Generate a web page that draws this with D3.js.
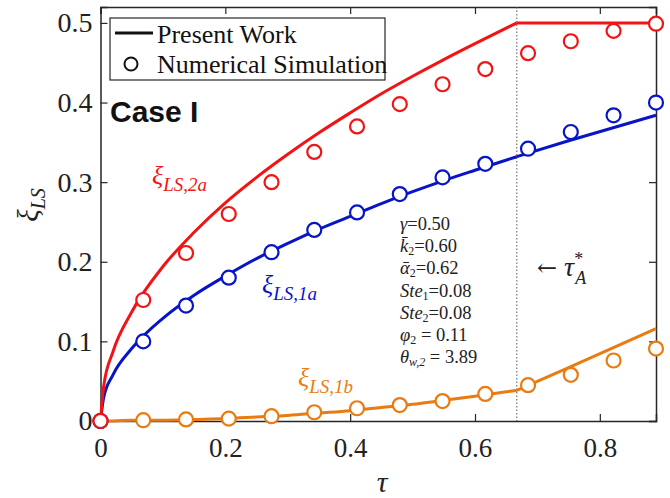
<!DOCTYPE html>
<html>
<head>
<meta charset="utf-8">
<script src="https://cdn.jsdelivr.net/npm/d3@7"></script>
<style>
  body { margin: 0; background: #fff; }
  svg text { font-family: "Liberation Serif", serif; }
</style>
</head>
<body>
<div id="chart"></div>
<script>
// chart values
var tauA = 0.667;

// simulation points (circles)
var simTau = [0, 0.0685, 0.137, 0.2055, 0.274, 0.3425, 0.411, 0.4795, 0.548, 0.6165, 0.685, 0.7535, 0.822, 0.89];
var sim2a  = [0, 0.152, 0.211, 0.260, 0.300, 0.338, 0.370, 0.398, 0.423, 0.442, 0.462, 0.477, 0.490, 0.499];
var sim1a  = [0, 0.100, 0.145, 0.180, 0.212, 0.240, 0.262, 0.285, 0.306, 0.323, 0.342, 0.363, 0.384, 0.400];
var sim1b  = [0, 0.001, 0.002, 0.003, 0.006, 0.011, 0.016, 0.020, 0.025, 0.034, 0.045, 0.058, 0.076, 0.091];

// present work (lines)
var lineTau = [0, 0.005, 0.02, 0.05, 0.1, 0.15, 0.2, 0.25, 0.3, 0.35, 0.4, 0.45, 0.5, 0.55, 0.6, 0.667, 0.75, 0.89];
var line2a  = [0, 0.043, 0.087, 0.137, 0.194, 0.237, 0.274, 0.306, 0.335, 0.362, 0.387, 0.411, 0.433, 0.454, 0.474, 0.500, 0.500, 0.500];
var line1a  = [0, 0.029, 0.058, 0.091, 0.129, 0.158, 0.182, 0.204, 0.223, 0.241, 0.257, 0.273, 0.288, 0.302, 0.315, 0.332, 0.352, 0.384];
var line1b  = [0, 0.000, 0.000, 0.001, 0.001, 0.002, 0.003, 0.005, 0.007, 0.010, 0.013, 0.017, 0.021, 0.026, 0.031, 0.0386, 0.067, 0.116];

var xTicks = [0, 0.2, 0.4, 0.6, 0.8];
var yTicks = [0, 0.1, 0.2, 0.3, 0.4, 0.5];

// parameter block: [text, italic, subscript]
var params = [
  [["γ", 1], ["=0.50", 0]],
  [["k\u0304", 1], ["2", 0, "sub"], ["=0.60", 0]],
  [["α\u0304", 1], ["2", 0, "sub"], ["=0.62", 0]],
  [["Ste", 1], ["1", 0, "sub"], ["=0.08", 0]],
  [["Ste", 1], ["2", 0, "sub"], ["=0.08", 0]],
  [["φ", 1], ["2", 0, "sub"], [" = 0.11", 0]],
  [["θ", 1], ["w,2", 1, "sub"], [" = 3.89", 0]]
];

var red = "#f21414", blue = "#0814c8", orange = "#e97b10", axisCol = "#262626";

var width = 670, height = 498;
var margin = {top: 7, right: 14, bottom: 77, left: 100.5};

var svg = d3.select("#chart").append("svg")
    .attr("width", width)
    .attr("height", height);

var x = d3.scaleLinear().domain([0, 0.89]).range([margin.left, width - margin.right]);
var y = d3.scaleLinear().domain([0, 0.52]).range([height - margin.bottom, margin.top]);

var fmt = function(d) { return d === 0 ? "0" : d.toFixed(1); };

// axes, box with inward ticks
var gx = svg.append("g")
    .attr("transform", "translate(0," + y(0) + ")")
    .call(d3.axisBottom(x).tickValues(xTicks).tickSize(-7).tickFormat(fmt));
gx.selectAll("text").attr("y", 36).attr("dy", 0).style("font-size", "27px");

var gy = svg.append("g")
    .attr("transform", "translate(" + x(0) + ",0)")
    .call(d3.axisLeft(y).tickValues(yTicks).tickSize(-7).tickFormat(fmt));
gy.selectAll("text").attr("x", -8).style("font-size", "28px");

svg.append("g")
    .attr("transform", "translate(0," + margin.top + ")")
    .call(d3.axisTop(x).tickValues(xTicks).tickSize(-7).tickFormat(""));
svg.append("g")
    .attr("transform", "translate(" + (width - margin.right) + ",0)")
    .call(d3.axisRight(y).tickValues(yTicks).tickSize(-7).tickFormat(""));

svg.selectAll(".domain").attr("stroke", axisCol).attr("stroke-width", 1.5);
svg.selectAll(".tick line").attr("stroke", axisCol).attr("stroke-width", 1.2);
svg.selectAll(".tick text").attr("fill", "#222");

// tau_A* dotted line
svg.append("line")
    .attr("x1", x(tauA)).attr("x2", x(tauA))
    .attr("y1", y(0.52)).attr("y2", y(0))
    .attr("stroke", "#555").attr("stroke-width", 1)
    .attr("stroke-dasharray", "1.5,2");

// curves: smooth part before tau_A*, straight part after
function drawCurve(vals, col) {
  var pts = lineTau.map(function(t, i) { return [t, vals[i]]; });
  var pre = pts.filter(function(p) { return p[0] <= tauA; });
  var post = pts.filter(function(p) { return p[0] >= tauA; });
  var smooth = d3.line().x(function(d) { return x(d[0]); }).y(function(d) { return y(d[1]); })
      .curve(d3.curveMonotoneX);
  var straight = d3.line().x(function(d) { return x(d[0]); }).y(function(d) { return y(d[1]); });
  svg.append("path").attr("d", smooth(pre)).attr("fill", "none")
      .attr("stroke", col).attr("stroke-width", 3).attr("stroke-linejoin", "round");
  svg.append("path").attr("d", straight(post)).attr("fill", "none")
      .attr("stroke", col).attr("stroke-width", 3).attr("stroke-linejoin", "round");
}

function drawPoints(vals, col) {
  svg.append("g").selectAll("circle")
    .data(simTau.map(function(t, i) { return [t, vals[i]]; }))
    .enter().append("circle")
      .attr("cx", function(d) { return x(d[0]); })
      .attr("cy", function(d) { return y(d[1]); })
      .attr("r", 7)
      .attr("fill", "#fff")
      .attr("stroke", col)
      .attr("stroke-width", 2.2);
}

drawCurve(line1b, orange);
drawPoints(sim1b, orange);
drawCurve(line1a, blue);
drawPoints(sim1a, blue);
drawCurve(line2a, red);
drawPoints(sim2a, red);

// xi labels
function xiLabel(px, py, sub, col) {
  var t = svg.append("text").attr("x", px).attr("y", py).attr("fill", col)
      .style("font-style", "italic");
  t.append("tspan").text("ξ").style("font-size", "26px");
  t.append("tspan").text(sub).attr("dy", 7).style("font-size", "19px");
}
xiLabel(152, 184, "LS,2a", red);
xiLabel(262, 293, "LS,1a", blue);
xiLabel(298, 386, "LS,1b", orange);

// parameters block
params.forEach(function(row, i) {
  var t = svg.append("text").attr("x", 400).attr("y", 230 + i * 22.2)
      .attr("fill", "#222").style("font-size", "18.5px");
  var lastSub = false;
  row.forEach(function(part) {
    var s = t.append("tspan").text(part[0]);
    if (part[1]) s.style("font-style", "italic");
    if (part[2] === "sub") {
      s.attr("dy", 3).style("font-size", "12px");
      lastSub = true;
    } else if (lastSub) {
      s.attr("dy", -3);
      lastSub = false;
    }
  });
});

// tau_A* marker text
var ta = svg.append("text").attr("x", 537).attr("y", 276).attr("fill", "#222")
    .style("font-size", "26px");
ta.append("tspan").text("←").style("font-family", "'DejaVu Serif', serif").style("font-size", "24px");
ta.append("tspan").text(" τ").style("font-style", "italic").style("font-size", "28px");
ta.append("tspan").text("*").attr("dy", -11).style("font-size", "18px");
ta.append("tspan").text("A").attr("dx", -8).attr("dy", 19).style("font-size", "18px").style("font-style", "italic");

// axis titles
svg.append("text").attr("x", 382).attr("y", 492).attr("text-anchor", "middle")
    .style("font-size", "30px").style("font-style", "italic").attr("fill", "#222").text("τ");

var yl = svg.append("text")
    .attr("transform", "translate(38,205) rotate(-90)")
    .attr("text-anchor", "middle").attr("fill", "#222").style("font-style", "italic");
yl.append("tspan").text("ξ").style("font-size", "29px");
yl.append("tspan").text("LS").attr("dy", 7).style("font-size", "20px");

// Case I
svg.append("text").attr("x", 110).attr("y", 122)
    .style("font-family", "'Liberation Sans', Arial, sans-serif")
    .style("font-weight", "bold").style("font-size", "30px").attr("fill", "#111")
    .text("Case I");

// legend
var lg = svg.append("g");
lg.append("rect").attr("x", 110).attr("y", 18).attr("width", 275).attr("height", 62)
    .attr("fill", "#fff").attr("stroke", axisCol).attr("stroke-width", 1.2);
lg.append("line").attr("x1", 115).attr("x2", 153).attr("y1", 33).attr("y2", 33)
    .attr("stroke", "#111").attr("stroke-width", 3);
lg.append("circle").attr("cx", 131).attr("cy", 64).attr("r", 6.5)
    .attr("fill", "#fff").attr("stroke", "#111").attr("stroke-width", 2);
lg.append("text").attr("x", 157).attr("y", 43).style("font-size", "26px").attr("fill", "#111")
    .text("Present Work");
lg.append("text").attr("x", 157).attr("y", 73).style("font-size", "26px").attr("fill", "#111")
    .text("Numerical Simulation");
</script>
</body>
</html>
